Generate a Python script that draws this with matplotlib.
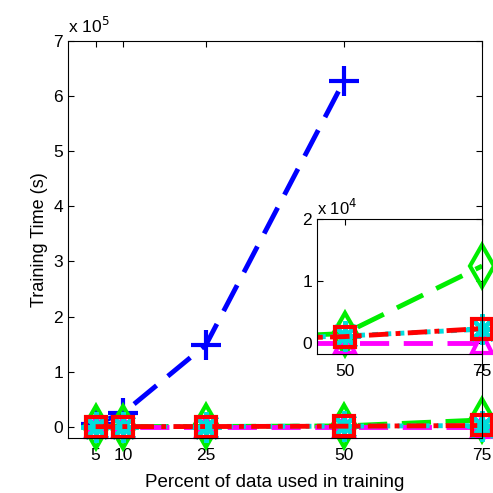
import matplotlib
matplotlib.use("Agg")
import matplotlib.pyplot as plt
import numpy as np

plt.rcParams['font.family'] = ['Liberation Sans', 'DejaVu Sans']

# percent of data used in training
pct = np.array([5, 10, 25, 50, 75])

# training times (s)
t_blue = np.array([5000, 25000, 149000, 628000, np.nan])
t_green = np.array([300, 400, 500, 1500, 12400])
t_magenta = np.array([0, 0, 0, 0, 0])
t_cyan = np.array([200, 300, 400, 1100, 2200])
t_red = np.array([200, 300, 400, 1000, 2300])

series = [
    (t_blue, 'blue', '+', dict(dashes=(6, 3)), 22),
    (t_green, '#00ee00', 'd', dict(dashes=(6, 3)), 21),
    (t_magenta, 'magenta', '^', dict(dashes=(6, 3)), 15),
    (t_cyan, '#00dddd', (8, 2, 0), dict(dashes=(1.2, 1.5)), 22),
    (t_red, 'red', 's', dict(dashes=(4, 1.5, 1, 1.5)), 15),
]


def draw(ax, xmin, xmax):
    for y, c, m, ls, ms in series:
        ax.plot(pct, y, color=c, lw=3.5, **ls)
        keep = (pct >= xmin) & (pct <= xmax)
        ax.plot(pct[keep], y[keep], ls='none', marker=m, ms=ms, mew=3,
                mec=c, mfc='none', clip_on=False)


fig = plt.figure(figsize=(4.93, 4.93), dpi=100)

# main axes
ax = fig.add_axes([0.138, 0.112, 0.840, 0.805])
draw(ax, 0, 75)
ax.set_xlim(0, 75)
ax.set_ylim(-20000, 700000)
ax.set_xticks([5, 10, 25, 50, 75])
ax.set_yticks(np.arange(0, 8) * 1e5)
ax.set_yticklabels([str(i) for i in range(8)])
ax.tick_params(direction='in', top=True, right=True, labelsize=12.5, length=4)
ax.tick_params(axis='x', pad=7)
ax.set_xlabel('Percent of data used in training', fontsize=13.5, labelpad=8)
ax.set_ylabel('Training Time (s)', fontsize=13, labelpad=4)
ax.text(0.0, 1.012, 'x 10$^5$', transform=ax.transAxes, fontsize=12.5,
        ha='left', va='bottom')

# inset zoom on 50-75
ins = fig.add_axes([0.643, 0.282, 0.335, 0.274])
draw(ins, 45, 75)
ins.set_xlim(45, 75)
ins.set_ylim(-1800, 20000)
ins.set_xticks([50, 75])
ins.set_yticks([0, 10000, 20000])
ins.set_yticklabels(['0', '1', '2'])
ins.tick_params(direction='in', top=True, right=True, labelsize=12.5, length=4)
ins.tick_params(axis='x', pad=7)
ins.text(0.0, 1.01, 'x 10$^4$', transform=ins.transAxes, fontsize=12,
         ha='left', va='bottom')

fig.savefig('out.png', dpi=100)
